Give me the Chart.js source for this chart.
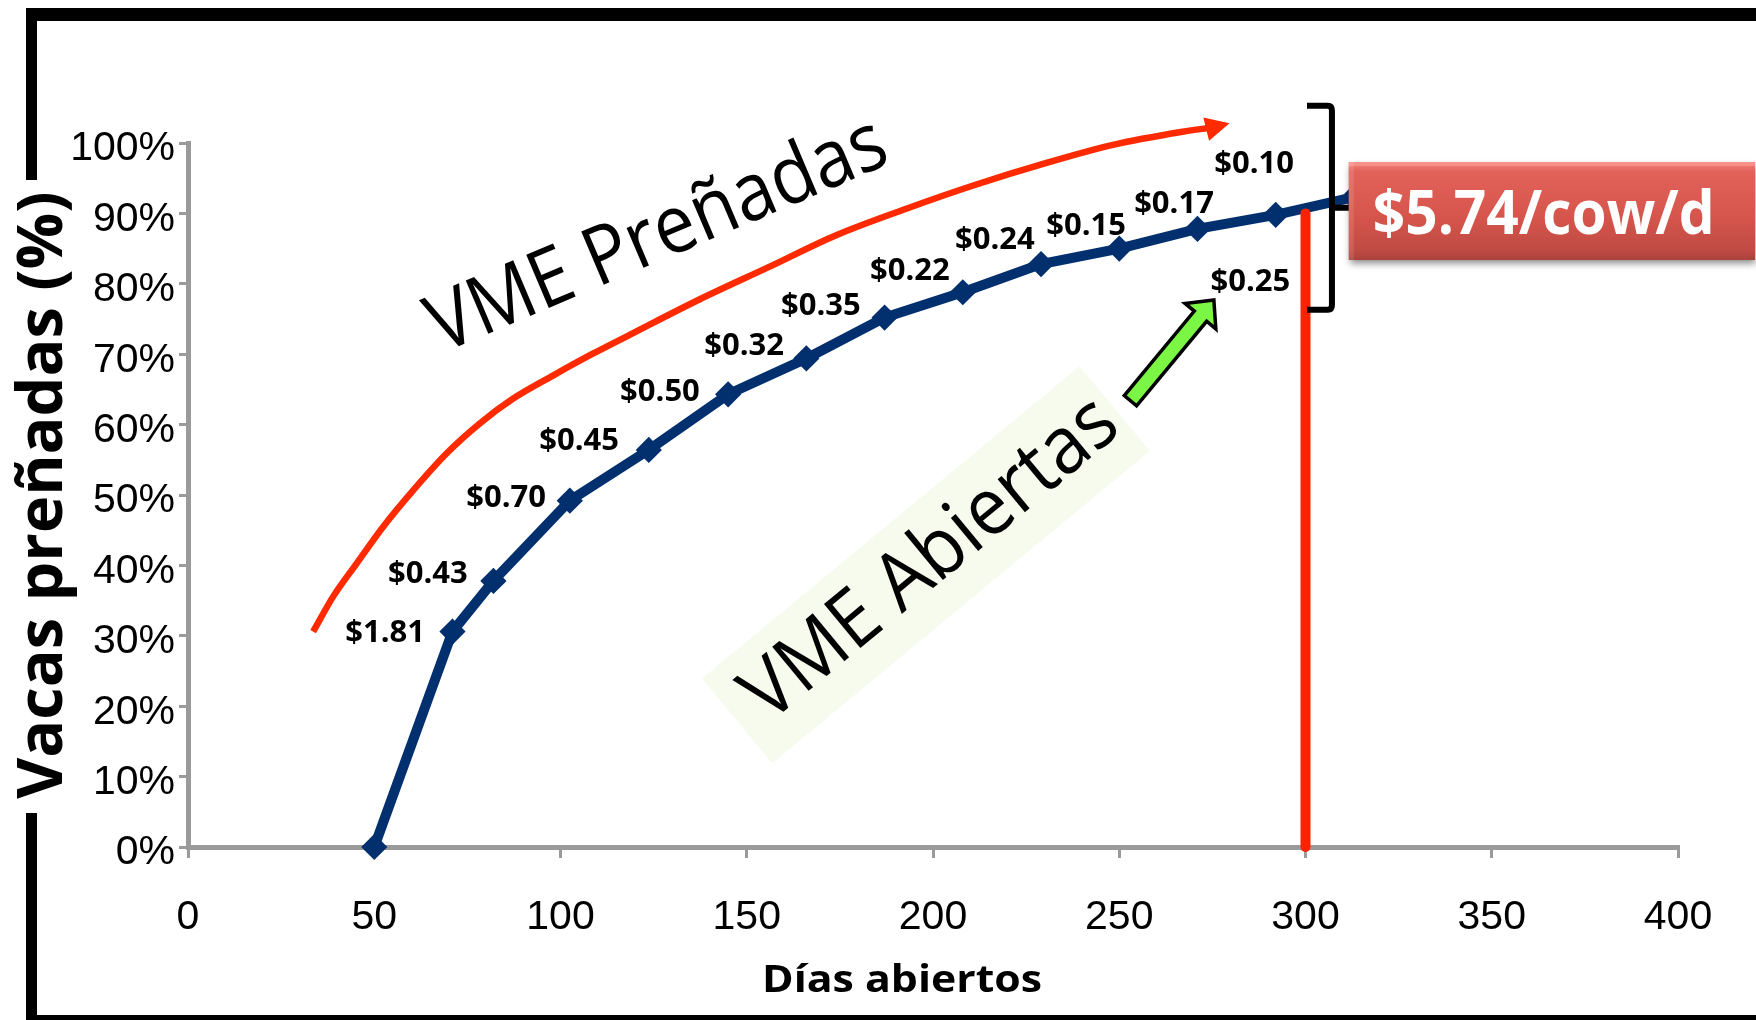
<!DOCTYPE html>
<html><head><meta charset="utf-8">
<script src="https://cdn.jsdelivr.net/npm/chart.js@4.4.1/dist/chart.umd.min.js"></script>
<style>html,body{margin:0;padding:0;background:#fff;overflow:hidden}canvas{display:block}</style>
</head><body>
<canvas id="c" width="1756" height="1020"></canvas>
<script>
// ---- data ----
const openDays = [50, 71, 82, 102.5, 123.7, 145, 166, 187, 208, 229, 250, 271, 292, 313];
const pregnantPct = [0, 30.6, 37.8, 49.2, 56.4, 64.3, 69.4, 75.2, 78.8, 82.8, 85.0, 87.8, 89.8, 92.3];
const trendDays = [33.6, 39, 45.3, 52.4, 60.5, 69.4, 78.4, 87.3, 98.1, 108.8, 119.5, 137, 156, 174, 193, 211, 230, 248, 267, 275];
const trendPct = [30.6, 35.6, 40.3, 45.5, 50.7, 55.9, 60.2, 63.7, 67.0, 70.1, 73.0, 77.7, 82.4, 86.9, 90.7, 94.0, 97.1, 99.7, 101.6, 102.2];
const limitDays = [300, 300];
const limitPct = [0, 90];
const costLabels = ['$1.81', '$0.43', '$0.70', '$0.45', '$0.50', '$0.32', '$0.35', '$0.22', '$0.24', '$0.15', '$0.17', '$0.10', '$0.25'];
const costLabelDays = [52.9, 64.4, 85.4, 105, 126.7, 149.3, 169.9, 193.8, 216.6, 241.1, 264.7, 286.2, 285.2];
const costLabelPct = [30.4, 38.8, 49.6, 57.7, 64.6, 71.2, 76.8, 81.8, 86.2, 88.2, 91.3, 97.0, 80.2];
const xTitle = 'Días abiertos';
const yTitle = 'Vacas preñadas (%)';
const totalLabel = '$5.74/cow/d';
const curveTitleTop = 'VME Preñadas';
const curveTitleBottom = 'VME Abiertas';

const toXY = (xs, ys) => xs.map((x, i) => ({x: x, y: ys[i]}));

function fitText(ctx, text, x, y, font, width, angle, color) {
  ctx.save();
  ctx.translate(x, y);
  ctx.rotate(angle);
  ctx.font = font;
  const w = ctx.measureText(text).width;
  const s = width ? width / w : 1;
  ctx.scale(s, 1);
  ctx.textAlign = 'center';
  ctx.textBaseline = 'middle';
  ctx.fillStyle = color;
  ctx.fillText(text, 0, 0);
  ctx.restore();
}

const deco = {
  id: 'deco',
  beforeDraw(chart) {
    const ctx = chart.ctx;
    ctx.save();
    ctx.fillStyle = '#fff';
    ctx.fillRect(0, 0, chart.width, chart.height);
    ctx.fillStyle = '#000';
    ctx.fillRect(26, 8, 1756 - 26, 13);      // top frame
    ctx.fillRect(26, 8, 11, 172);            // left frame (upper part)
    ctx.fillRect(26, 813, 11, 207);          // left frame (lower part)
    ctx.fillRect(26, 1015, 1756 - 26, 6);    // bottom frame
    ctx.restore();
  },
  beforeDatasetsDraw(chart) {
    const ctx = chart.ctx, xs = chart.scales.x, ys = chart.scales.y;
    // pale box behind "VME Abiertas"
    const cx = xs.getPixelForValue(198.1), cy = ys.getPixelForValue(40.1);
    ctx.save();
    ctx.translate(cx, cy);
    ctx.rotate(-39.6 * Math.PI / 180);
    ctx.fillStyle = '#f6fbee';
    ctx.fillRect(-245, -55, 490, 110);
    ctx.restore();
  },
  afterDatasetsDraw(chart) {
    const ctx = chart.ctx, xs = chart.scales.x, ys = chart.scales.y;
    const P = (d, p) => [xs.getPixelForValue(d), ys.getPixelForValue(p)];

    // red arrow head at end of the trend curve
    {
      const n = trendDays.length;
      const [bx, by] = P(trendDays[n - 1], trendPct[n - 1]);
      const [tx, ty] = P(279.6, 102.8);
      const a = Math.atan2(ty - by, tx - bx);
      ctx.save();
      ctx.translate(tx, ty); ctx.rotate(a);
      ctx.fillStyle = '#ff2a00';
      ctx.beginPath(); ctx.moveTo(0, 0); ctx.lineTo(-24, -12); ctx.lineTo(-24, 12); ctx.closePath(); ctx.fill();
      ctx.restore();
    }

    // cost labels
    costLabels.forEach((t, i) => {
      const [x, y] = P(costLabelDays[i], costLabelPct[i]);
      fitText(ctx, t, x, y, 'bold 31px "Open Sans"', 0, 0, '#000');
    });

    // rotated annotation texts
    {
      const [x1, y1] = P(126.2, 86.7);
      fitText(ctx, curveTitleTop, x1, y1, '81px "Open Sans"', 490, -23 * Math.PI / 180, '#000');
      const [x2, y2] = P(199.6, 40.8);
      fitText(ctx, curveTitleBottom, x2, y2, '80px "Open Sans"', 460, -39.6 * Math.PI / 180, '#000');
    }

    // green arrow
    {
      const [sx, sy] = P(253, 63.4);
      const [tx, ty] = P(275.4, 77.7);
      const a = Math.atan2(ty - sy, tx - sx);
      const L = Math.hypot(tx - sx, ty - sy);
      ctx.save();
      ctx.translate(sx, sy); ctx.rotate(a);
      ctx.beginPath();
      ctx.moveTo(0, -8); ctx.lineTo(L - 21, -8); ctx.lineTo(L - 21, -20); ctx.lineTo(L, 0);
      ctx.lineTo(L - 21, 20); ctx.lineTo(L - 21, 8); ctx.lineTo(0, 8); ctx.closePath();
      ctx.fillStyle = '#7cf644'; ctx.fill();
      ctx.lineWidth = 3.5; ctx.strokeStyle = '#000'; ctx.lineJoin = 'miter'; ctx.stroke();
      ctx.restore();
    }

    // bracket
    {
      const [lx, ty] = P(300.4, 105.3);
      const [rx, by] = P(307.1, 76.3);
      const [mx, my] = P(312.5, 90.8);
      ctx.save();
      ctx.strokeStyle = '#000'; ctx.lineWidth = 6; ctx.lineJoin = 'round'; ctx.lineCap = 'butt';
      ctx.beginPath();
      ctx.moveTo(lx, ty); ctx.lineTo(rx - 4, ty); ctx.quadraticCurveTo(rx, ty, rx, ty + 5);
      ctx.lineTo(rx, by - 5); ctx.quadraticCurveTo(rx, by, rx - 4, by); ctx.lineTo(lx, by);
      ctx.stroke();
      ctx.beginPath(); ctx.moveTo(rx, my); ctx.lineTo(mx, my); ctx.stroke();
      ctx.restore();
    }

    // red total box
    {
      const [l, t] = P(311.6, 97.3);
      const w = 1755 - l, h = 98;
      ctx.save();
      ctx.shadowColor = 'rgba(0,0,0,0.45)'; ctx.shadowBlur = 7; ctx.shadowOffsetX = 1; ctx.shadowOffsetY = 4;
      const g = ctx.createLinearGradient(0, t, 0, t + h);
      g.addColorStop(0, '#f0857d'); g.addColorStop(0.1, '#e2625a'); g.addColorStop(0.55, '#d6554c');
      g.addColorStop(0.9, '#c04b43'); g.addColorStop(1, '#a9423b');
      ctx.fillStyle = g; ctx.fillRect(l, t, w, h);
      ctx.restore();
      ctx.save();
      ctx.fillStyle = 'rgba(255,160,150,0.55)'; ctx.fillRect(l, t, w, 4);
      ctx.fillStyle = 'rgba(255,255,255,0.12)'; ctx.fillRect(l, t, 5, h);
      ctx.restore();
      fitText(ctx, totalLabel, l + 195, t + 55, 'bold 60px "Open Sans"', 342, 0, '#fff');
    }

    // x axis title
    fitText(ctx, xTitle, 902, 981, 'bold 38px "Open Sans"', 280, 0, '#000');
  }
};

new Chart(document.getElementById('c'), {
  type: 'line',
  data: {
    datasets: [
      {
        label: 'Límite', data: toXY(limitDays, limitPct), order: 0,
        borderColor: '#ff2200', borderWidth: 10, borderCapStyle: 'round',
        pointRadius: 0, clip: false
      },
      {
        label: 'Vacas preñadas', data: toXY(openDays, pregnantPct), order: 1,
        borderColor: '#022f6e', backgroundColor: '#022f6e', borderWidth: 10,
        pointStyle: 'rectRot', pointRadius: 11, pointBorderWidth: 3,
        pointBorderColor: '#022f6e', pointBackgroundColor: '#022f6e',
        tension: 0, clip: false
      },
      {
        label: 'VME Preñadas', data: toXY(trendDays, trendPct), order: 2,
        borderColor: '#ff2a00', borderWidth: 6.5, pointRadius: 0,
        cubicInterpolationMode: 'monotone', clip: false
      }
    ]
  },
  options: {
    responsive: false,
    animation: false,
    devicePixelRatio: 1,
    layout: {padding: {left: 0, top: 143, right: 78, bottom: 0}},
    plugins: {legend: {display: false}, tooltip: {enabled: false}},
    scales: {
      x: {
        type: 'linear', min: 0, max: 400,
        ticks: {stepSize: 50, color: '#000', font: {family: '"Liberation Sans", Arial, sans-serif', size: 41}, padding: 35, maxRotation: 0},
        grid: {drawOnChartArea: false, color: '#9a9a9a', lineWidth: 3, tickLength: 11},
        border: {color: '#9a9a9a', width: 5},
        afterFit(s) { s.height = 173; }
      },
      y: {
        min: 0, max: 100,
        ticks: {stepSize: 10, color: '#000', callback: v => v + '%', font: {family: '"Liberation Sans", Arial, sans-serif', size: 41}, padding: 4, labelOffset: 6},
        grid: {drawOnChartArea: false, color: '#9a9a9a', lineWidth: 3, tickLength: 9},
        border: {color: '#9a9a9a', width: 5},
        title: {display: true, text: yTitle, color: '#000', font: {family: '"Open Sans"', size: 63, weight: 'bold'}, padding: {top: 6, bottom: 0}},
        afterFit(s) { s.width = 188; }
      }
    }
  },
  plugins: [deco]
});
</script>
</body></html>
